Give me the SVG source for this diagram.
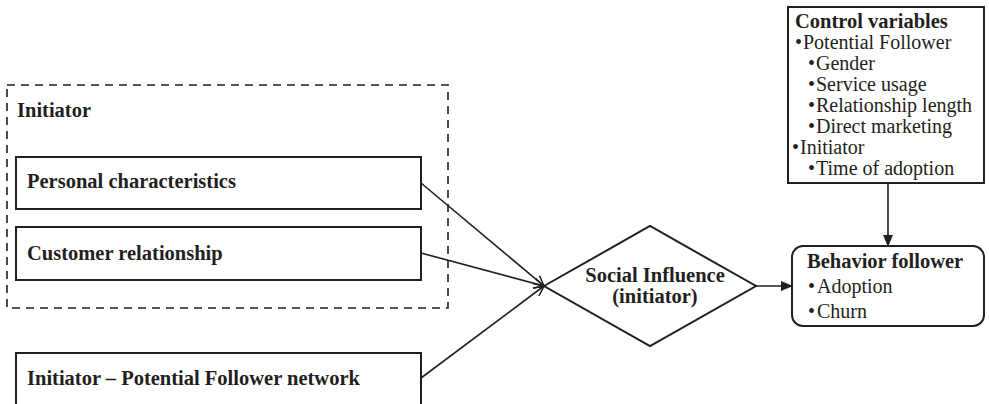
<svg xmlns="http://www.w3.org/2000/svg" width="989" height="404" viewBox="0 0 989 404">
<style>
.b{font-family:"Liberation Serif","Times New Roman",serif;font-weight:bold;font-size:20.5px;fill:#231f20}
.r{font-family:"Liberation Serif","Times New Roman",serif;font-size:20px;fill:#231f20}
.box{fill:#fff;stroke:#231f20;stroke-width:2}
.ln{fill:none;stroke:#231f20;stroke-width:1.6}
</style>
<defs>
<marker id="open" viewBox="0 0 12 12" refX="11" refY="6" markerWidth="12" markerHeight="12" markerUnits="userSpaceOnUse" orient="auto">
<path d="M1,1 L11,6 L1,11" fill="none" stroke="#231f20" stroke-width="1.6"/>
</marker>
<marker id="fill" viewBox="0 0 12 12" refX="11" refY="6" markerWidth="12" markerHeight="12" markerUnits="userSpaceOnUse" orient="auto">
<path d="M0,1 L12,6 L0,11 Z" fill="#231f20"/>
</marker>
</defs>
<g id="initiator-group">
<rect x="7" y="85" width="441" height="223" fill="none" stroke="#231f20" stroke-width="1.6" stroke-dasharray="8,6"/>
<text class="b" x="17" y="117">Initiator</text>
</g>
<g id="personal">
<rect class="box" x="16" y="157" width="405" height="52"/>
<text class="b" x="27" y="188">Personal characteristics</text>
</g>
<g id="customer">
<rect class="box" x="16" y="227" width="405" height="53"/>
<text class="b" x="27" y="260">Customer relationship</text>
</g>
<g id="network">
<rect class="box" x="16" y="353" width="405" height="60"/>
<text class="b" x="27" y="385">Initiator – Potential Follower network</text>
</g>
<g id="social">
<polygon class="box" points="544,286 650,226 756,286 650,346"/>
<text class="b" x="655" y="282" text-anchor="middle">Social Influence</text>
<text class="b" x="655" y="303" text-anchor="middle">(initiator)</text>
</g>
<g id="behavior">
<rect class="box" x="792" y="246" width="192" height="80" rx="11"/>
<text class="b" x="807" y="268">Behavior follower</text>
<text class="r" x="808" y="293">•<tspan x="817">Adoption</tspan></text>
<text class="r" x="808" y="318">•<tspan x="817">Churn</tspan></text>
</g>
<g id="control">
<rect class="box" x="788" y="7" width="196" height="176"/>
<text class="b" x="795" y="28">Control variables</text>
<text class="r" x="795" y="49">•<tspan x="803">Potential Follower</tspan></text>
<text class="r" x="808" y="70">•<tspan x="816">Gender</tspan></text>
<text class="r" x="808" y="91">•<tspan x="816">Service usage</tspan></text>
<text class="r" x="808" y="112">•<tspan x="816">Relationship length</tspan></text>
<text class="r" x="808" y="133">•<tspan x="816">Direct marketing</tspan></text>
<text class="r" x="792" y="154">•<tspan x="800">Initiator</tspan></text>
<text class="r" x="808" y="175">•<tspan x="816">Time of adoption</tspan></text>
</g>
<g id="connectors">
<line class="ln" x1="421" y1="183" x2="544" y2="286" marker-end="url(#open)"/>
<line class="ln" x1="421" y1="253" x2="544" y2="286" marker-end="url(#open)"/>
<line class="ln" x1="421" y1="378" x2="544" y2="286" marker-end="url(#open)"/>
<line class="ln" x1="756" y1="286" x2="792" y2="286" marker-end="url(#fill)"/>
<line class="ln" x1="888" y1="183" x2="888" y2="246" marker-end="url(#fill)"/>
</g>
</svg>
